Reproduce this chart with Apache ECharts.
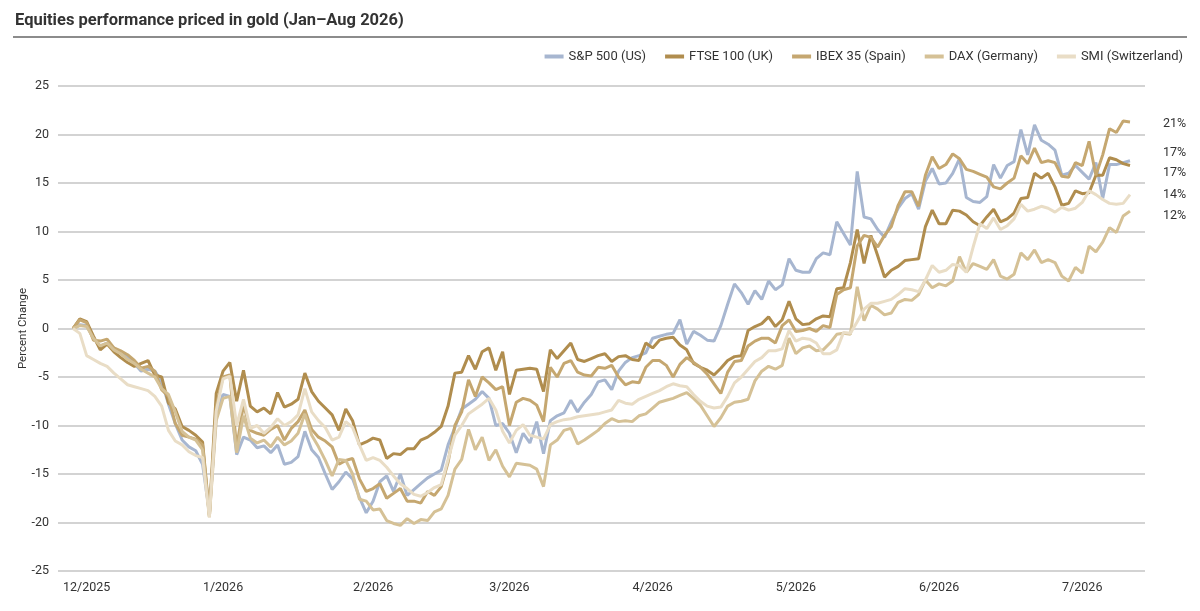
<!DOCTYPE html>
<html>
<head>
<meta charset="utf-8">
<title>Equities performance priced in gold</title>
<style>
  html, body, #chart { margin: 0; padding: 0; width: 1200px; height: 611px; background: #fff; }
</style>
</head>
<body>
<div id="chart"></div>
<script src="https://cdn.jsdelivr.net/npm/echarts@6/dist/echarts.min.js"></script>
<script>
// month labels and the trading-day index where each one sits
var monthLabels = ['12/2025', '1/2026', '2/2026', '3/2026', '4/2026', '5/2026', '6/2026', '7/2026'];
var monthIdx = [2, 22, 44, 64, 85, 106, 127, 148];

// percent change, one value per trading day
var sp500 = [
  0, 0.4, 0.3, -1.0, -1.8, -1.5, -2.0, -2.5, -3.0, -3.6, -4.4, -4.2, -4.4, -5.5, -7.8, -9.8, -11.5, -12.2, -12.6, -14.0, -19.0, -9.0, -6.8,
  -7.0, -13.0, -11.2, -11.5, -12.3, -12.1, -12.8, -12.0, -14.0, -13.8, -13.2, -10.6, -12.5, -13.3, -15.0, -16.6, -15.8, -14.8, -15.5, -17.4, -19.0, -17.8,
  -15.8, -15.2, -16.8, -15.0, -17.2, -16.6, -16.0, -15.4, -15.0, -14.6, -12.0, -10.2, -8.3, -7.8, -7.3, -6.5, -7.2, -10.0, -9.8, -10.8,
  -12.8, -10.8, -11.8, -9.6, -12.9, -9.5, -9.0, -8.7, -7.4, -8.6, -7.6, -6.8, -5.5, -5.3, -6.3, -4.4, -3.5, -3.0, -2.8, -2.5, -1.0,
  -0.8, -0.6, -0.5, 0.9, -1.6, -0.3, -0.7, -1.2, -1.3, 0.3, 2.5, 4.6, 3.7, 2.5, 3.9, 3.0, 4.9, 4.0, 4.5, 7.2, 6.0,
  5.8, 5.8, 7.2, 7.8, 7.6, 11.0, 9.8, 8.6, 16.2, 11.5, 11.3, 10.2, 9.4, 11.0, 12.4, 13.4, 13.9, 12.3, 15.2, 16.5, 14.9,
  15.0, 16.0, 17.5, 13.5, 13.1, 13.0, 13.6, 16.9, 15.5, 16.8, 17.2, 20.5, 17.9, 21.0, 19.4, 19.0, 18.4, 15.8, 16.0, 16.8, 16.1, 15.4, 17.1, 13.4, 16.9, 16.9, 17.1, 17.3
];
var ftse100 = [
  0, 1.0, 0.7, -0.8, -2.2, -1.6, -2.4, -3.0, -3.5, -3.9, -3.6, -3.3, -4.8, -5.0, -7.7, -8.3, -10.1, -10.5, -11.0, -11.7, -19.2, -6.7, -4.4,
  -3.5, -7.5, -4.3, -8.0, -8.6, -8.2, -8.8, -6.6, -8.1, -7.8, -7.3, -4.6, -6.5, -7.5, -8.2, -8.9, -10.5, -8.3, -9.5, -12.0, -11.7, -11.3,
  -11.5, -13.4, -12.9, -13.0, -12.4, -12.4, -11.5, -11.2, -10.7, -10.1, -8.0, -4.6, -4.5, -2.8, -4.2, -2.4, -2.0, -4.3, -2.4, -6.8,
  -4.3, -4.2, -4.1, -4.2, -6.5, -2.2, -3.1, -2.3, -1.5, -3.2, -3.4, -3.1, -2.8, -2.6, -3.4, -2.9, -2.8, -3.2, -3.3, -1.5, -2.0,
  -1.2, -1.0, -0.9, -1.7, -2.2, -3.6, -4.0, -4.3, -4.8, -4.1, -3.3, -2.9, -2.8, -0.2, 0.2, 0.5, 1.2, 0.2, 0.9, 2.8, 1.0,
  0.4, 0.5, 1.0, 1.3, 1.2, 4.1, 4.2, 6.8, 10.2, 6.7, 9.6, 7.5, 5.3, 6.0, 6.4, 7.0, 7.1, 7.2, 10.5, 12.2, 10.8,
  10.8, 12.2, 12.1, 11.7, 11.0, 10.6, 11.5, 12.3, 11.0, 11.3, 11.9, 13.4, 13.5, 16.0, 15.5, 16.0, 14.6, 12.7, 12.9, 14.2, 13.9, 14.0, 15.8, 15.8, 17.6, 17.4, 17.0, 16.8
];
var ibex35 = [
  0, 0.9, 0.6, -1.2, -1.3, -1.1, -2.0, -2.3, -2.7, -3.3, -4.1, -3.9, -4.4, -6.3, -7.0, -9.8, -11.0, -11.2, -11.4, -12.0, -19.4, -8.0, -5.0,
  -4.8, -12.3, -7.8, -10.5, -10.8, -11.0, -10.4, -10.0, -11.5, -10.3, -9.6, -8.4, -10.4, -11.2, -11.6, -12.2, -14.0, -13.6, -13.4, -15.5, -16.8, -16.5,
  -16.0, -17.5, -17.0, -16.5, -17.8, -17.8, -18.0, -16.8, -17.2, -16.3, -13.8, -10.0, -8.6, -5.3, -7.0, -5.0, -5.6, -6.3, -6.0, -10.0,
  -7.6, -7.2, -7.4, -7.9, -9.6, -4.0, -5.0, -3.6, -3.3, -4.5, -4.8, -4.9, -4.0, -4.1, -3.8, -5.0, -5.8, -5.5, -5.6, -4.0, -3.3,
  -3.3, -3.8, -5.0, -3.7, -3.0, -3.5, -4.0, -4.7, -5.7, -6.7, -4.5, -3.4, -3.3, -1.8, -1.3, -1.0, -1.0, -1.5, 0.3, 0.9, -0.3,
  -0.2, 0.0, -0.3, 0.3, 0.1, 3.5, 4.0, 4.2, 8.5, 9.6, 9.4, 8.4, 9.6, 10.5, 12.7, 14.1, 14.1, 12.6, 15.8, 17.7, 16.5,
  16.9, 18.0, 17.5, 16.4, 16.2, 15.9, 15.6, 14.6, 14.4, 15.0, 15.5, 17.8, 17.0, 18.6, 17.1, 17.3, 17.1, 15.7, 15.6, 17.1, 16.8, 19.3, 15.8, 17.9, 20.6, 20.2, 21.4, 21.3
];
var dax = [
  0, 0.3, 0.2, -1.0, -1.8, -1.5, -2.2, -2.6, -3.2, -3.6, -4.2, -4.6, -5.0, -6.2, -6.8, -8.6, -10.6, -11.2, -11.5, -12.5, -19.4, -9.5, -7.2,
  -7.0, -12.8, -9.0, -11.3, -11.8, -11.5, -12.2, -11.2, -12.0, -11.6, -10.8, -8.8, -11.0, -12.2, -13.6, -15.2, -13.5, -13.6, -15.0, -17.6, -17.8, -18.7,
  -18.6, -19.8, -20.1, -20.3, -19.6, -20.1, -19.7, -19.8, -18.9, -18.6, -17.2, -14.5, -13.5, -10.4, -12.5, -11.2, -13.6, -12.5, -14.2, -15.3,
  -13.9, -14.0, -14.1, -14.5, -16.3, -12.0, -11.5, -10.5, -10.3, -11.9, -11.5, -11.0, -10.5, -9.8, -9.3, -9.6, -9.5, -9.6, -9.0, -8.8, -8.2,
  -7.6, -7.4, -7.2, -6.9, -6.6, -7.2, -7.9, -9.0, -10.1, -9.2, -8.0, -7.6, -7.5, -7.3, -5.4, -4.4, -3.9, -4.2, -3.8, -1.0, -2.6,
  -2.0, -1.8, -2.3, -2.2, -1.5, -0.6, -0.5, -0.6, 4.3, 0.8, 2.4, 2.0, 1.4, 1.6, 2.7, 3.0, 2.9, 3.5, 5.0, 4.2, 4.6,
  4.4, 4.9, 7.4, 5.8, 6.7, 6.4, 6.1, 7.1, 5.4, 5.1, 5.6, 7.8, 7.1, 8.1, 6.8, 7.1, 6.8, 5.4, 4.9, 6.3, 5.7, 8.5, 7.9, 8.9, 10.4, 9.9, 11.6, 12.1
];
var smi = [
  0, -0.5, -2.8, -3.2, -3.6, -3.9, -4.6, -5.2, -5.8, -6.0, -6.2, -6.4, -7.0, -8.0, -10.5, -11.6, -12.0, -12.7, -13.1, -13.3, -19.5, -8.5, -5.2,
  -4.9, -10.0, -7.3, -10.3, -10.0, -10.8, -10.2, -9.3, -10.0, -9.6, -8.9, -6.2, -8.6, -9.5, -10.2, -11.5, -11.2, -9.6, -10.2, -12.0, -13.6, -13.3,
  -13.6, -14.3, -15.2, -16.0, -16.5, -17.1, -17.3, -16.9, -16.4, -16.1, -13.5, -11.0, -10.0, -8.8, -8.3, -7.8, -7.2, -8.4, -10.6, -11.8,
  -10.5, -9.9, -11.0, -11.2, -11.4, -9.9, -9.6, -9.4, -9.3, -9.1, -9.0, -8.9, -8.8, -8.6, -8.4, -7.4, -7.7, -7.8, -7.3, -7.0, -6.7,
  -6.4, -6.0, -5.7, -5.9, -6.0, -6.8, -7.5, -8.0, -8.2, -8.1, -7.0, -5.6, -5.0, -4.2, -3.4, -3.0, -2.3, -2.3, -2.1, -0.2, -1.3,
  -1.0, -1.1, -1.5, -2.6, -2.6, -2.2, -0.4, -0.5, 0.7, 2.0, 2.6, 2.6, 2.8, 3.0, 3.5, 4.1, 4.0, 3.8, 5.0, 6.5, 5.8,
  6.0, 6.6, 6.5, 5.8, 8.4, 10.8, 10.3, 11.4, 10.2, 10.6, 11.3, 12.8, 12.1, 12.3, 12.6, 12.4, 12.0, 12.5, 12.2, 12.4, 13.0, 14.2, 13.8, 13.3, 12.9, 12.8, 12.9, 13.8
];

var seriesDefs = [
  { name: 'S&P 500 (US)', data: sp500, color: '#a7b6d0', labelShift: -8 },
  { name: 'FTSE 100 (UK)', data: ftse100, color: '#b08d4e', labelShift: 7 },
  { name: 'IBEX 35 (Spain)', data: ibex35, color: '#c5a770', labelShift: 2 },
  { name: 'DAX (Germany)', data: dax, color: '#d5c196', labelShift: 5 },
  { name: 'SMI (Switzerland)', data: smi, color: '#e9ddc6', labelShift: 0 }
];

var fontFam = 'Roboto, "Liberation Sans", sans-serif';
var chart = echarts.init(document.getElementById('chart'));

chart.setOption({
  animation: false,
  backgroundColor: '#fff',
  textStyle: { fontFamily: fontFam },
  title: {
    text: 'Equities performance priced in gold (Jan\u2013Aug 2026)',
    left: 15,
    top: 12,
    padding: 0,
    textStyle: { fontSize: 16.5, fontWeight: 'bold', color: '#333', fontFamily: fontFam }
  },
  graphic: [{
    type: 'line',
    shape: { x1: 13, y1: 37, x2: 1187, y2: 37 },
    style: { stroke: '#666', lineWidth: 1.5 }
  }],
  legend: {
    right: 17,
    top: 50,
    padding: 0,
    itemGap: 19,
    itemWidth: 19,
    itemHeight: 4,
    icon: 'rect',
    textStyle: { fontSize: 13, color: '#333', fontFamily: fontFam },
    data: seriesDefs.map(function (s) { return s.name; })
  },
  grid: { left: 58, right: 55, top: 86, bottom: 40 },
  xAxis: {
    type: 'value',
    min: -2.2,
    max: 157.2,
    axisLine: { show: false },
    axisTick: { show: false },
    splitLine: { show: false },
    axisLabel: {
      customValues: monthIdx,
      fontSize: 12.5,
      color: '#333',
      margin: 10,
      formatter: function (v) {
        var k = monthIdx.indexOf(Math.round(v));
        return k >= 0 ? monthLabels[k] : '';
      }
    }
  },
  yAxis: {
    type: 'value',
    min: -25,
    max: 25,
    interval: 5,
    name: 'Percent Change',
    nameLocation: 'middle',
    nameGap: 29,
    nameMoveOverlap: false,
    nameTextStyle: { fontSize: 11.5, color: '#333' },
    axisLine: { show: false },
    axisTick: { show: false },
    axisLabel: { fontSize: 12.5, color: '#333', margin: 9 },
    splitLine: { lineStyle: { color: '#c4c4c4', width: 1.5 } }
  },
  series: seriesDefs.map(function (s) {
    return {
      name: s.name,
      type: 'line',
      symbol: 'none',
      smooth: false,
      color: s.color,
      lineStyle: { width: 3, color: s.color },
      data: s.data.map(function (v, i) { return [i, v]; }),
      endLabel: {
        show: true,
        distance: 33,
        offset: [0, s.labelShift],
        fontSize: 12.5,
        color: '#333',
        formatter: function (p) { return Math.round(p.value[1]) + '%'; }
      }
    };
  })
});
</script>
</body>
</html>
